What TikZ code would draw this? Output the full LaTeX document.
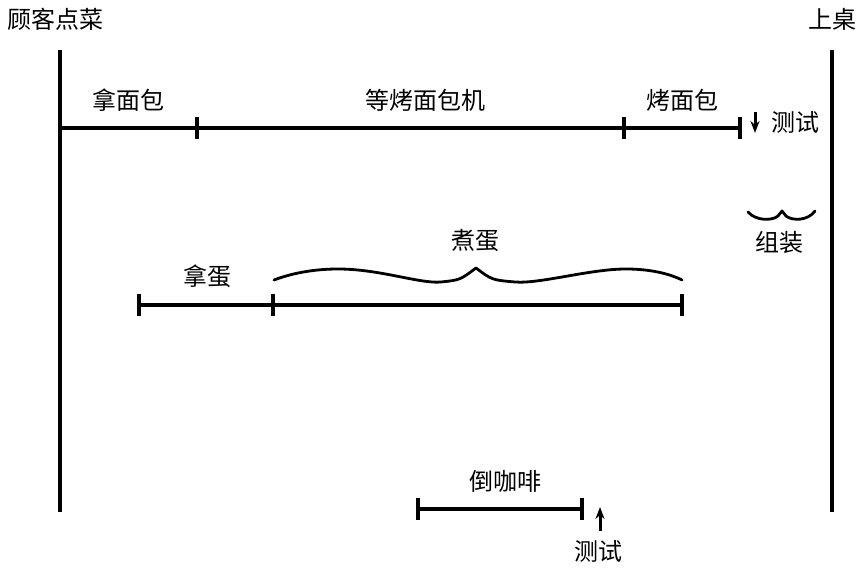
\documentclass[tikz,border=0pt]{standalone}
\usepackage{fontspec}
\usepackage{tikz}
\usetikzlibrary{arrows.meta}
\newfontfamily\cjk{Noto Sans CJK SC}

\tikzset{
  lane/.style={line width=1.8pt},
  span/.style={line width=1.6pt},
  tickmark/.style={line width=1.8pt},
  bracestroke/.style={line width=1.4pt, line cap=round, line join=round},
  probe/.style={line width=1.5pt, -{Stealth[length=6pt,width=4.5pt]}},
  lbl/.style={font=\cjk\fontsize{12}{14}\selectfont, inner sep=0pt},
}

\begin{document}
\begin{tikzpicture}[x=0.5pt, y=-0.5pt, >=Stealth]
  \useasboundingbox (0,0) rectangle (864,571);

  % Lanes: order placed and served
  \coordinate (orderTop) at (60,50);
  \coordinate (orderBot) at (60,512);
  \coordinate (serveTop) at (832,50);
  \coordinate (serveBot) at (832,512);
  \draw[lane] (orderTop) -- (orderBot);
  \draw[lane] (serveTop) -- (serveBot);
  \node[lbl] (order) at (56,19) {顾客点菜};
  \node[lbl] (serve) at (832,19) {上桌};

  % Toast track
  \coordinate (t0) at (60,128);
  \coordinate (t1) at (197,128);
  \coordinate (t2) at (624,128);
  \coordinate (t3) at (740,128);
  \draw[span] (t0) -- (t3);
  \node[lbl] (getBread) at (128,100) {拿面包};
  \node[lbl] (waitToaster) at (425,100) {等烤面包机};
  \node[lbl] (toastBread) at (682,100) {烤面包};

  % Test after toast
  \coordinate (testAtop) at (755,112);
  \coordinate (testAbot) at (755,133);
  \draw[probe] (testAtop) -- (testAbot);
  \node[lbl] (testA) at (795,122) {测试};

  % Assemble
  \draw[bracestroke] (748,212) .. controls (756,221) and (772,221) .. (778,216)
    -- (782,211) -- (786,216) .. controls (792,221) and (808,221) .. (815,211);
  \node[lbl] (assemble) at (779,242) {组装};

  % Egg track
  \coordinate (e0) at (139,305);
  \coordinate (e1) at (273,305);
  \coordinate (e2) at (682,305);
  \draw[span] (e0) -- (e2);
  \node[lbl] (getEgg) at (208,276) {拿蛋};
  \draw[bracestroke] (274,280) .. controls (295,272) and (318,269) .. (338,269)
    .. controls (380,269) and (420,284) .. (441,282)
    .. controls (460,280) .. (476,268) .. controls (492,280) .. (515,282)
    .. controls (540,284) and (590,269) .. (626,269)
    .. controls (648,269) and (668,273) .. (682,280);
  \node[lbl] (boilEgg) at (475,241) {煮蛋};

  % Coffee track
  \coordinate (c0) at (418,509);
  \coordinate (c1) at (582,509);
  \draw[span] (c0) -- (c1);
  \node[lbl] (pourCoffee) at (505,481) {倒咖啡};

  % Test after coffee
  \coordinate (testBbot) at (600,531);
  \coordinate (testBtop) at (600,507);
  \draw[probe] (testBbot) -- (testBtop);
  \node[lbl] (testB) at (598,551) {测试};

  % Ticks
  \foreach \p in {t1,t2,t3,e0,e1,e2,c0,c1}
    \draw[tickmark] ([yshift=5.5pt]\p) -- ([yshift=-5.5pt]\p);
\end{tikzpicture}
\end{document}
